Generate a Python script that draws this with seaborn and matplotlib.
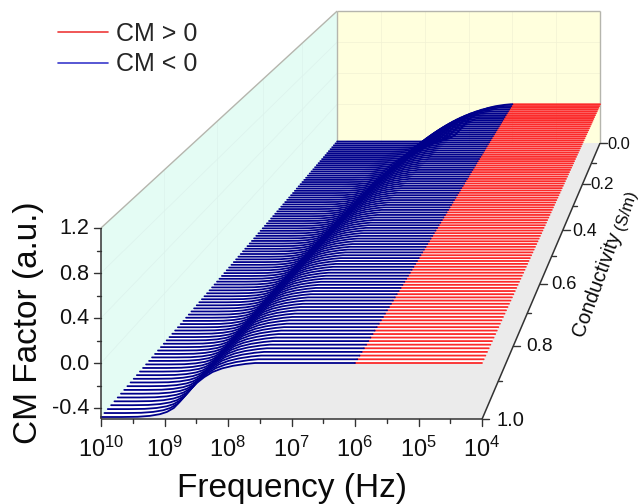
import pandas as pd
import seaborn as sns
import matplotlib.pyplot as plt

sns.set_theme(style="white")
plt.rcParams['font.family'] = ['Liberation Sans', 'DejaVu Sans']
plt.rcParams['mathtext.default'] = 'regular'

# conductivity of each curve, back to front (S/m)
conductivity = [0.00, 0.01, 0.02, 0.03, 0.04, 0.05, 0.06, 0.07, 0.08, 0.09,
                0.10, 0.11, 0.12, 0.13, 0.14, 0.15, 0.16, 0.17, 0.18, 0.19,
                0.20, 0.21, 0.22, 0.23, 0.24, 0.25, 0.26, 0.27, 0.28, 0.29,
                0.30, 0.31, 0.32, 0.33, 0.34, 0.35, 0.36, 0.37, 0.38, 0.39,
                0.40, 0.41, 0.42, 0.43, 0.44, 0.45, 0.46, 0.47, 0.48, 0.49,
                0.50, 0.51, 0.52, 0.53, 0.54, 0.55, 0.56, 0.57, 0.58, 0.59,
                0.60, 0.61, 0.62, 0.63, 0.64, 0.65, 0.66, 0.67, 0.68, 0.69,
                0.70, 0.71, 0.72, 0.73, 0.74, 0.75, 0.76, 0.77, 0.78, 0.79,
                0.80, 0.81, 0.82, 0.83, 0.84, 0.85, 0.86, 0.87, 0.88, 0.89,
                0.90, 0.91, 0.92, 0.93, 0.94, 0.95, 0.96, 0.97, 0.98, 0.99, 1.00]
# log10 of the frequency at the middle of the rise, one per curve
rise_log_f = [7.037, 7.162, 7.259, 7.338, 7.405, 7.463, 7.514, 7.560, 7.601, 7.639,
              7.674, 7.706, 7.736, 7.764, 7.790, 7.815, 7.839, 7.861, 7.882, 7.902,
              7.922, 7.940, 7.958, 7.975, 7.991, 8.007, 8.022, 8.037, 8.051, 8.065,
              8.079, 8.091, 8.104, 8.116, 8.128, 8.140, 8.151, 8.162, 8.173, 8.183,
              8.193, 8.203, 8.213, 8.223, 8.232, 8.241, 8.250, 8.259, 8.268, 8.276,
              8.284, 8.292, 8.300, 8.308, 8.316, 8.323, 8.331, 8.338, 8.345, 8.352,
              8.359, 8.366, 8.373, 8.380, 8.386, 8.393, 8.399, 8.405, 8.411, 8.417,
              8.423, 8.429, 8.435, 8.441, 8.446, 8.452, 8.458, 8.463, 8.468, 8.474,
              8.479, 8.484, 8.489, 8.494, 8.499, 8.504, 8.509, 8.514, 8.519, 8.523,
              8.528, 8.533, 8.537, 8.542, 8.546, 8.551, 8.555, 8.560, 8.564, 8.569, 8.573]
# shape of the rise: decades away from the middle, and the CM factor there
rise_offset = [1.1, 0.85, 0.66, 0.5, 0.39, 0.28, 0.19, 0.1, 0.0, -0.08, -0.2, -0.33, -0.48, -0.65, -0.85, -1.0]
rise_cm = [-0.48, -0.478, -0.47, -0.455, -0.435, -0.40, -0.347, -0.29, -0.225, -0.178, -0.125, -0.08, -0.048, -0.025, -0.008, 0.0]
cm_high_f = -0.48
cm_low_f = 0.0

cm_major = [-0.4, 0.0, 0.4, 0.8, 1.2]
cm_minor = [-0.2, 0.2, 0.6, 1.0]
freq_major = [10, 9, 8, 7, 6, 5, 4]
freq_minor = [9.5, 8.5, 7.5, 6.5, 5.5, 4.5]
cond_major = [0.0, 0.2, 0.4, 0.6, 0.8, 1.0]
cond_minor = [0.1, 0.3, 0.5, 0.7, 0.9]


# the box of the original is drawn in perspective, lines run to one vanishing point
def project(log_f, cond, cm):
    x_front = 101 + (10 - log_f) * 63.5
    y_front = 363 - cm * 112.5
    s = 1 / (1 + 0.449 * (1 - cond))
    return 863 + (x_front - 863) * s, -472 + (y_front + 472) * s


def face(points, color):
    xy = [project(*p) for p in points]
    ax.fill([p[0] for p in xy], [p[1] for p in xy], color=color, lw=0, zorder=1)


def seg(p, q, color, lw, z=2):
    a, b = project(*p), project(*q)
    ax.plot([a[0], b[0]], [a[1], b[1]], color=color, lw=lw, zorder=z, solid_capstyle='butt')


fig = plt.figure(figsize=(6.38, 5.04), dpi=100)
ax = fig.add_axes([0, 0, 1, 1])

# walls and floor
face([(10, 1, -0.5), (10, 0, -0.5), (10, 0, 1.2), (10, 1, 1.2)], '#e4fcf4')
face([(10, 0, -0.5), (4, 0, -0.5), (4, 0, 1.2), (10, 0, 1.2)], '#ffffdd')
face([(10, 1, -0.5), (4, 1, -0.5), (4, 0, -0.5), (10, 0, -0.5)], '#ebebeb')

# faint grid on the walls
for c in cond_major[1:-1]:
    seg((10, c, -0.5), (10, c, 1.2), '#dcf2ec', 0.5)
for f in freq_major[1:-1]:
    seg((f, 0, -0.5), (f, 0, 1.2), '#f1f2d4', 0.5)
for v in [0.0, 0.4, 0.8]:
    seg((10, 1, v), (10, 0, v), '#dcf2ec', 0.5)
    seg((10, 0, v), (4, 0, v), '#f1f2d4', 0.5)
seg((10, 1, 1.2), (10, 0, 1.2), '#b5b5ad', 1)
seg((10, 0, 1.2), (4, 0, 1.2), '#b5b5ad', 1)
seg((10, 0, 1.2), (10, 0, -0.5), '#b5b5ad', 1)
seg((4, 0, 1.2), (4, 0, -0.5), '#b5b5ad', 1)

# curves, every one split in two at 1 MHz
rows = []
outlines = []
for i, c in enumerate(conductivity):
    log_f = [10.0] + [rise_log_f[i] + d for d in rise_offset]
    cm = [cm_high_f] + rise_cm
    px, py = zip(*[project(f, c, v) for f, v in zip(log_f, cm)])
    for x, y in zip(px, py):
        rows.append((i, "CM < 0", x, y))
    x6, y6 = project(6, c, cm_low_f)
    x4, y4 = project(4, c, cm_low_f)
    rows.append((i, "CM < 0", x6, y6))
    rows.append((i, "CM > 0", x6, y6))
    rows.append((i, "CM > 0", x4, y4))
    outlines.append((list(px) + [x6, x4], list(py) + [y6, y4]))

df = pd.DataFrame(rows, columns=["line", "sign", "x", "y"])

# white strip between neighbours so that the gaps read white
for back, front in zip(outlines[:-1], outlines[1:]):
    ax.fill(back[0] + front[0][::-1], back[1] + front[1][::-1], color='white', lw=0, zorder=1.5)

n_before = len(ax.lines)
sns.lineplot(data=df, x="x", y="y", hue="sign", units="line", estimator=None, sort=False,
             hue_order=["CM > 0", "CM < 0"], palette=['#fb2a2a', '#00008b'], lw=1.3, ax=ax, zorder=3)
# horizontal lines get snapped to whole pixels otherwise, which gives uneven gaps
for line in ax.lines[n_before:]:
    line.set_snap(False)

# axes lines
seg((10, 1, -0.5), (10, 1, 1.2), '#333333', 1.1, 4)
seg((10, 1, -0.5), (4, 1, -0.5), '#333333', 1.1, 4)
seg((4, 1, -0.5), (4, 0, -0.5), '#333333', 1.1, 4)

for v in cm_major + cm_minor:
    x, y = project(10, 1, v)
    ax.plot([x - (7 if v in cm_major else 4), x], [y, y], color='#333333', lw=1, zorder=4)
for v in cm_major:
    x, y = project(10, 1, v)
    ax.text(89, y + 1, f"{v:.1f}", ha='right', va='center', fontsize=15.5, color='#111111')

for f in freq_major + freq_minor:
    x, y = project(f, 1, -0.5)
    ax.plot([x, x], [y, y + (7 if f in freq_major else 4)], color='#333333', lw=1, zorder=4)
for f in freq_major:
    x, y = project(f, 1, -0.5)
    ax.text(x, 449, f"$10^{{{f}}}$", ha='center', va='center', fontsize=17, color='#111111')

for c in cond_major + cond_minor:
    x, y = project(4, c, -0.5)
    ax.plot([x, x + (7 if c in cond_major else 4)], [y, y], color='#333333', lw=1, zorder=4)
for c in cond_major:
    x, y = project(4, c, -0.5)
    s = 1 / (1 + 0.449 * (1 - c))
    ax.text(x + 15 - 25.8 * (1 - s), y + 1, f"{c:.1f}", ha='left', va='center',
            fontsize=8.5 * s + 6, color='#111111')

ax.text(29, 323, "CM Factor (a.u.)", rotation=90, ha='center', va='center', fontsize=24, color='#0a0a0a')
ax.text(292, 488, "Frequency (Hz)", ha='center', va='center', fontsize=24, color='#0a0a0a')
ax.text(597, 284, "Conductivity", rotation=70, rotation_mode='anchor', ha='center', va='center',
        fontsize=14.5, color='#0a0a0a')
ax.text(626, 210, "(S/m)", rotation=72, rotation_mode='anchor', ha='center', va='center',
        fontsize=12, color='#0a0a0a')

ax.set_xlim(0, 638)
ax.set_ylim(504, 0)
ax.set_axis_off()

leg = ax.legend(loc='upper left', bbox_to_anchor=(58 / 638, 1 - 22 / 504), frameon=False, fontsize=18,
                handlelength=2.0, handletextpad=0.3, labelspacing=0.25, borderpad=0, borderaxespad=0)
for line, color in zip(leg.get_lines(), ['#ee3a3a', '#3a3acc']):
    line.set_color(color)
    line.set_linewidth(1.2)

fig.savefig("out.png", dpi=100)
